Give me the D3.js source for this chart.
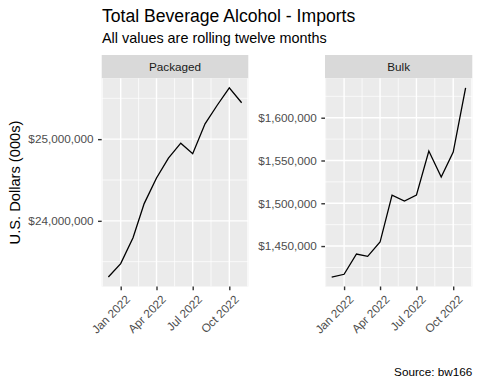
<!DOCTYPE html>
<html><head><meta charset="utf-8">
<script src="https://cdn.jsdelivr.net/npm/d3@7"></script>
<style>body{margin:0;background:#fff;font-family:"Liberation Sans",Arial,sans-serif;}</style>
</head><body>
<script>
const months = ["2021-12-01","2022-01-01","2022-02-01","2022-03-01","2022-04-01","2022-05-01","2022-06-01","2022-07-01","2022-08-01","2022-09-01","2022-10-01","2022-11-01"];
const packaged = [23312000,23476000,23793000,24211000,24524000,24768000,24951000,24821000,25187000,25418000,25629000,25446000];
const bulk = [1413800,1417000,1440700,1438000,1454700,1509600,1502600,1509600,1561000,1530600,1559800,1635000];
const packagedTicks = [24000000,25000000];
const bulkTicks = [1450000,1500000,1550000,1600000];
const xTickDates = ["2022-01-01","2022-04-01","2022-07-01","2022-10-01"];
const xTickLabels = ["Jan 2022","Apr 2022","Jul 2022","Oct 2022"];

const W=480,H=384;
const FONT="Liberation Sans, Arial, sans-serif";
const svg=d3.select("body").append("svg").attr("width",W).attr("height",H).attr("font-family",FONT);
const parse=d3.utcParse("%Y-%m-%d");
const dates=months.map(s=>parse(s));
const xt=xTickDates.map(s=>parse(s));

svg.append("text").attr("x",102).attr("y",21.5).attr("font-size",17.6).attr("fill","#000").text("Total Beverage Alcohol - Imports");
svg.append("text").attr("x",102).attr("y",43).attr("font-size",14.4).attr("fill","#000").text("All values are rolling twelve months");
svg.append("text").attr("x",472.3).attr("y",376).attr("text-anchor","end").attr("font-size",11.73).attr("fill","#000").text("Source: bw166");
svg.append("text").attr("transform","translate(20,182.5) rotate(-90)").attr("text-anchor","middle").attr("font-size",14.67).attr("fill","#000").text("U.S. Dollars (000s)");

function expand(ext){const a=+ext[0],b=+ext[1];const r=b-a;return [a-0.05*r,b+0.05*r];}

function panel(x0,x1,title,vals,ticks){
  const top=78.3,bot=286.5;
  const g=svg.append("g");
  g.append("rect").attr("x",x0).attr("y",55).attr("width",x1-x0).attr("height",top-55).attr("fill","#d9d9d9");
  g.append("text").attr("x",(x0+x1)/2).attr("y",70.8).attr("text-anchor","middle").attr("font-size",11.73).attr("fill","#1a1a1a").text(title);
  g.append("rect").attr("x",x0).attr("y",top).attr("width",x1-x0).attr("height",bot-top).attr("fill","#ebebeb");
  const x=d3.scaleUtc().domain(expand(d3.extent(dates))).range([x0,x1]);
  const y=d3.scaleLinear().domain(expand(d3.extent(vals))).range([bot,top]);
  const step=ticks[1]-ticks[0];
  const minorY=[];
  for(let v=ticks[0]-step/2; v<=y.domain()[1]; v+=step) if(v>=y.domain()[0]) minorY.push(v);
  g.selectAll(".my").data(minorY).join("line").attr("x1",x0).attr("x2",x1).attr("y1",d=>y(d)).attr("y2",d=>y(d)).attr("stroke","#fff").attr("stroke-width",0.7);
  const allX=[d3.utcMonth.offset(xt[0],-3),...xt,d3.utcMonth.offset(xt[3],3)];
  const minorX=[];
  for(let i=0;i<allX.length-1;i++){const m=new Date((+allX[i]+ +allX[i+1])/2); if(+m>=+x.domain()[0]&&+m<=+x.domain()[1]) minorX.push(m);}
  g.selectAll(".mx").data(minorX).join("line").attr("y1",top).attr("y2",bot).attr("x1",d=>x(d)).attr("x2",d=>x(d)).attr("stroke","#fff").attr("stroke-width",0.7);
  g.selectAll(".gy").data(ticks).join("line").attr("x1",x0).attr("x2",x1).attr("y1",d=>y(d)).attr("y2",d=>y(d)).attr("stroke","#fff").attr("stroke-width",1.4);
  g.selectAll(".gx").data(xt).join("line").attr("y1",top).attr("y2",bot).attr("x1",d=>x(d)).attr("x2",d=>x(d)).attr("stroke","#fff").attr("stroke-width",1.4);
  const line=d3.line().x((d,i)=>x(dates[i])).y(d=>y(d));
  g.append("path").datum(vals).attr("d",line).attr("fill","none").attr("stroke","#000").attr("stroke-width",1.3);
  const fmt=v=>"$"+d3.format(",")(v);
  const ya=g.append("g").attr("transform",`translate(${x0},0)`).call(d3.axisLeft(y).tickValues(ticks).tickFormat(fmt).tickSize(3.67).tickPadding(4.5));
  ya.select(".domain").remove();
  ya.selectAll("line").attr("stroke","#333").attr("stroke-width",1.4);
  ya.selectAll("text").attr("font-size",11.73).attr("fill","#4d4d4d").attr("font-family",FONT);
  const xa=g.append("g").attr("transform",`translate(0,${bot})`).call(d3.axisBottom(x).tickValues(xt).tickFormat((d,i)=>xTickLabels[i]).tickSize(3.67));
  xa.select(".domain").remove();
  xa.selectAll("line").attr("stroke","#333").attr("stroke-width",1.4);
  xa.selectAll("text").attr("font-size",11.73).attr("fill","#4d4d4d").attr("font-family",FONT)
    .attr("text-anchor","end").attr("dy",null).attr("y",0).attr("transform","translate(3.5,7.5) rotate(-45)").attr("dominant-baseline","hanging");
}
panel(101.7,248.3,"Packaged",packaged,packagedTicks);
panel(325,472.3,"Bulk",bulk,bulkTicks);
</script>
</body></html>
